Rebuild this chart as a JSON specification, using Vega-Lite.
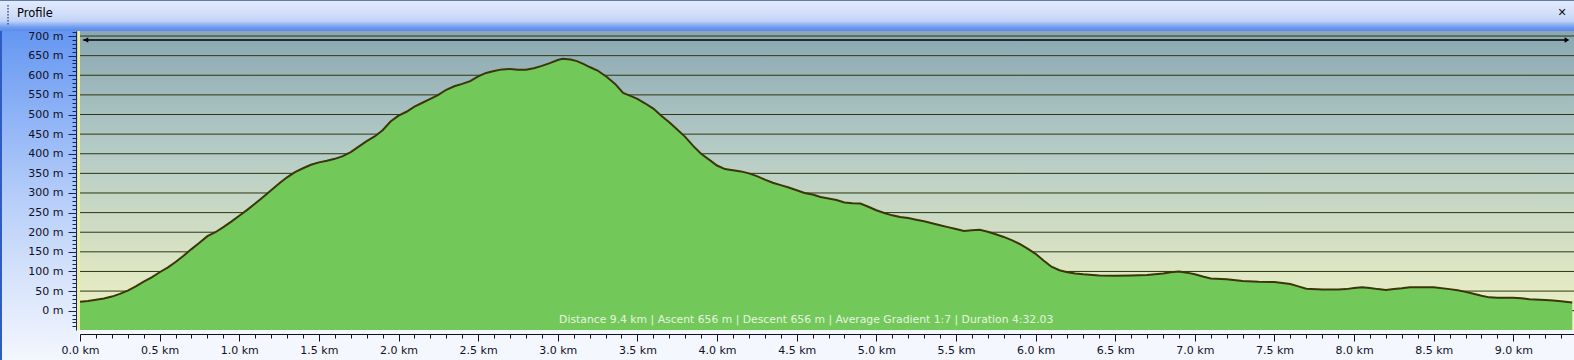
{
 "$schema": "https://vega.github.io/schema/vega-lite/v6.json",
 "width": 1494,
 "height": 299,
 "autosize": {"type": "none"},
 "padding": {"left": 80, "top": 31, "right": 0, "bottom": 30},
 "background": "#f4f7fd",
 "config": {"view": {"stroke": null}, "font": "DejaVu Sans"},
 "datasets": {
  "profile": [
   {"km":0.00,"m":23},{"km":0.05,"m":25},{"km":0.10,"m":28},{"km":0.15,"m":31},{"km":0.20,"m":36},{"km":0.25,"m":43},{"km":0.30,"m":51},{"km":0.35,"m":62},{"km":0.40,"m":74},{"km":0.45,"m":85},{"km":0.50,"m":98},{"km":0.55,"m":110},{"km":0.60,"m":124},{"km":0.65,"m":140},{"km":0.70,"m":157},{"km":0.75,"m":173},{"km":0.80,"m":190},{"km":0.85,"m":200},{"km":0.90,"m":213},{"km":0.95,"m":227},
   {"km":1.00,"m":242},{"km":1.05,"m":257},{"km":1.10,"m":273},{"km":1.15,"m":290},{"km":1.20,"m":307},{"km":1.25,"m":324},{"km":1.30,"m":340},{"km":1.35,"m":353},{"km":1.40,"m":363},{"km":1.45,"m":372},{"km":1.50,"m":378},{"km":1.55,"m":382},{"km":1.60,"m":387},{"km":1.65,"m":394},{"km":1.70,"m":404},{"km":1.75,"m":418},{"km":1.80,"m":432},{"km":1.85,"m":444},{"km":1.90,"m":460},{"km":1.95,"m":482},
   {"km":2.00,"m":497},{"km":2.05,"m":507},{"km":2.10,"m":520},{"km":2.15,"m":530},{"km":2.20,"m":540},{"km":2.25,"m":550},{"km":2.30,"m":563},{"km":2.35,"m":572},{"km":2.40,"m":578},{"km":2.45,"m":585},{"km":2.50,"m":597},{"km":2.55,"m":606},{"km":2.60,"m":611},{"km":2.65,"m":615},{"km":2.70,"m":616},{"km":2.75,"m":614},{"km":2.80,"m":614},{"km":2.85,"m":618},{"km":2.90,"m":624},{"km":2.95,"m":631},
   {"km":3.00,"m":639},{"km":3.03,"m":642},{"km":3.08,"m":640},{"km":3.12,"m":636},{"km":3.16,"m":629},{"km":3.20,"m":621},{"km":3.25,"m":612},{"km":3.31,"m":595},{"km":3.36,"m":578},{"km":3.41,"m":555},{"km":3.46,"m":547},{"km":3.50,"m":540},{"km":3.55,"m":528},{"km":3.60,"m":515},{"km":3.65,"m":497},{"km":3.70,"m":480},{"km":3.75,"m":462},{"km":3.80,"m":443},{"km":3.85,"m":420},{"km":3.90,"m":400},{"km":3.95,"m":385},
   {"km":4.00,"m":370},{"km":4.05,"m":361},{"km":4.10,"m":358},{"km":4.15,"m":355},{"km":4.20,"m":350},{"km":4.25,"m":343},{"km":4.30,"m":334},{"km":4.35,"m":326},{"km":4.40,"m":320},{"km":4.45,"m":314},{"km":4.50,"m":307},{"km":4.55,"m":300},{"km":4.60,"m":296},{"km":4.65,"m":290},{"km":4.70,"m":286},{"km":4.75,"m":282},{"km":4.80,"m":276},{"km":4.85,"m":274},{"km":4.90,"m":273},{"km":4.95,"m":265},
   {"km":5.00,"m":256},{"km":5.05,"m":249},{"km":5.10,"m":243},{"km":5.15,"m":239},{"km":5.20,"m":236},{"km":5.25,"m":232},{"km":5.30,"m":228},{"km":5.35,"m":223},{"km":5.40,"m":218},{"km":5.45,"m":213},{"km":5.50,"m":208},{"km":5.55,"m":203},{"km":5.60,"m":205},{"km":5.65,"m":206},{"km":5.70,"m":201},{"km":5.75,"m":195},{"km":5.80,"m":188},{"km":5.85,"m":180},{"km":5.90,"m":170},{"km":5.95,"m":158},
   {"km":6.00,"m":145},{"km":6.05,"m":128},{"km":6.10,"m":112},{"km":6.15,"m":103},{"km":6.20,"m":98},{"km":6.25,"m":95},{"km":6.30,"m":93},{"km":6.40,"m":90},{"km":6.50,"m":89},{"km":6.60,"m":90},{"km":6.70,"m":91},{"km":6.80,"m":95},{"km":6.85,"m":98},{"km":6.90,"m":100},{"km":6.95,"m":97},
   {"km":7.00,"m":93},{"km":7.05,"m":87},{"km":7.10,"m":82},{"km":7.20,"m":80},{"km":7.30,"m":76},{"km":7.40,"m":74},{"km":7.50,"m":73},{"km":7.60,"m":68},{"km":7.65,"m":62},{"km":7.70,"m":56},{"km":7.80,"m":54},{"km":7.90,"m":54},{"km":7.95,"m":55},
   {"km":8.00,"m":58},{"km":8.05,"m":60},{"km":8.10,"m":58},{"km":8.15,"m":55},{"km":8.20,"m":53},{"km":8.25,"m":55},{"km":8.30,"m":57},{"km":8.35,"m":60},{"km":8.50,"m":60},{"km":8.60,"m":55},{"km":8.65,"m":52},{"km":8.70,"m":48},{"km":8.75,"m":43},{"km":8.80,"m":38},{"km":8.85,"m":34},{"km":8.90,"m":33},
   {"km":9.00,"m":33},{"km":9.05,"m":32},{"km":9.10,"m":29},{"km":9.20,"m":27},{"km":9.25,"m":26},{"km":9.30,"m":24},{"km":9.37,"m":21}
  ],
  "grid": [
   {"m":0},{"m":50},{"m":100},{"m":150},{"m":200},{"m":250},{"m":300},{"m":350},{"m":400},{"m":450},{"m":500},{"m":550},{"m":600},{"m":650},{"m":700}
  ]
 },
 "layer": [
  {
   "data": {"values": [{}]},
   "mark": {"type": "rect", "color": {"gradient": "linear", "x1": 0, "y1": 0, "x2": 0, "y2": 1, "stops": [{"offset": 0, "color": "#10306e"}, {"offset": 0.04, "color": "#e0eafd"}, {"offset": 0.45, "color": "#d2dffa"}, {"offset": 0.68, "color": "#c0d2f8"}, {"offset": 0.8, "color": "#8fb0f3"}, {"offset": 0.9, "color": "#6898ef"}, {"offset": 1, "color": "#5a8cec"}]}},
   "encoding": {
    "x": {"datum": -0.5024, "type": "quantitative", "scale": {"domain": [0, 9.3809], "nice": false, "zero": false}, "title": null},
    "x2": {"datum": 9.4},
    "y": {"datum": 791.8, "type": "quantitative", "scale": {"domain": [-49.18, 712.8], "nice": false, "zero": false}, "title": null},
    "y2": {"datum": 712.8}
   }
  },
  {
   "data": {"values": [{}]},
   "mark": {"type": "rect", "color": {"gradient": "linear", "x1": 0, "y1": 0, "x2": 0, "y2": 1, "stops": [{"offset": 0, "color": "#6597f1"}, {"offset": 0.25, "color": "#8db2f6"}, {"offset": 0.5, "color": "#b4cdf9"}, {"offset": 0.75, "color": "#d6e3fb"}, {"offset": 1, "color": "#f3f7fe"}]}},
   "encoding": {
    "x": {"datum": -0.5024, "type": "quantitative", "scale": {"domain": [0, 9.3809], "nice": false, "zero": false}, "title": null},
    "x2": {"datum": -0.0094},
    "y": {"datum": 712.8, "type": "quantitative", "scale": {"domain": [-49.18, 712.8], "nice": false, "zero": false}, "title": null},
    "y2": {"datum": -125.6}
   }
  },
  {
   "data": {"values": [{}]},
   "mark": {"type": "rect", "color": "#2d5cc4"},
   "encoding": {
    "x": {"datum": -0.5024, "type": "quantitative", "scale": {"domain": [0, 9.3809], "nice": false, "zero": false}, "title": null},
    "x2": {"datum": -0.4898},
    "y": {"datum": 712.8, "type": "quantitative", "scale": {"domain": [-49.18, 712.8], "nice": false, "zero": false}, "title": null},
    "y2": {"datum": -125.6}
   }
  },
  {
   "data": {"values": [{}]},
   "mark": {"type": "rect", "color": {"gradient": "linear", "x1": 0, "y1": 0, "x2": 0, "y2": 1, "stops": [{"offset": 0, "color": "#8aa8b2"}, {"offset": 0.4, "color": "#b5cbc6"}, {"offset": 0.8, "color": "#dde6c3"}, {"offset": 1, "color": "#f0f2c6"}]}},
   "encoding": {
    "x": {"datum": 0, "type": "quantitative", "scale": {"domain": [0, 9.3809], "nice": false, "zero": false}, "title": null},
    "x2": {"datum": 9.3809},
    "y": {"datum": 712.8, "type": "quantitative", "scale": {"domain": [-49.18, 712.8], "nice": false, "zero": false}, "title": null},
    "y2": {"datum": -49.18}
   }
  },
  {
   "data": {"values": [{}]},
   "mark": {"type": "rule", "color": "#eef08c", "strokeWidth": 2.5},
   "encoding": {
    "x": {"datum": -0.009, "type": "quantitative", "scale": {"domain": [0, 9.3809], "nice": false, "zero": false}, "title": null},
    "y": {"datum": 712.8, "type": "quantitative", "scale": {"domain": [-49.18, 712.8], "nice": false, "zero": false}, "title": null},
    "y2": {"datum": -49.18}
   }
  },
  {
   "data": {"name": "grid"},
   "mark": {"type": "rule", "color": "#2c3810", "strokeWidth": 1},
   "encoding": {
    "y": {"field": "m", "type": "quantitative", "scale": {"domain": [-49.18, 712.8], "nice": false, "zero": false}, "title": null}
   }
  },
  {
   "data": {"name": "profile"},
   "mark": {"type": "area", "color": "#72c95a"},
   "encoding": {
    "x": {"field": "km", "type": "quantitative", "scale": {"domain": [0, 9.3809], "nice": false, "zero": false},
     "axis": {"title": null, "orient": "bottom", "offset": 4, "grid": false, "zindex": 1, "tickCount": 1000,
      "values": [0,0.1,0.2,0.3,0.4,0.5,0.6,0.7,0.8,0.9,1,1.1,1.2,1.3,1.4,1.5,1.6,1.7,1.8,1.9,2,2.1,2.2,2.3,2.4,2.5,2.6,2.7,2.8,2.9,3,3.1,3.2,3.3,3.4,3.5,3.6,3.7,3.8,3.9,4,4.1,4.2,4.3,4.4,4.5,4.6,4.7,4.8,4.9,5,5.1,5.2,5.3,5.4,5.5,5.6,5.7,5.8,5.9,6,6.1,6.2,6.3,6.4,6.5,6.6,6.7,6.8,6.9,7,7.1,7.2,7.3,7.4,7.5,7.6,7.7,7.8,7.9,8,8.1,8.2,8.3,8.4,8.5,8.6,8.7,8.8,8.9,9,9.1,9.2,9.3],
      "domainColor": "#101028", "tickColor": "#101028",
      "tickSize": {"condition": {"test": "round(datum.value*10) % 5 === 0", "value": 7}, "value": 4},
      "labelExpr": "round(datum.value*10) % 5 === 0 ? format(datum.value, '.1f') + ' km' : ''",
      "labelFont": "DejaVu Sans", "labelFontSize": 11, "labelColor": "#101028", "labelPadding": 3,
      "labelOverlap": false, "labelFlush": false, "labelBound": false}},
    "y": {"field": "m", "type": "quantitative", "scale": {"domain": [-49.18, 712.8], "nice": false, "zero": false},
     "axis": {"title": null, "orient": "left", "offset": 4, "grid": false, "zindex": 1, "tickCount": 1000,
      "values": [-40,-30,-20,-10,0,10,20,30,40,50,60,70,80,90,100,110,120,130,140,150,160,170,180,190,200,210,220,230,240,250,260,270,280,290,300,310,320,330,340,350,360,370,380,390,400,410,420,430,440,450,460,470,480,490,500,510,520,530,540,550,560,570,580,590,600,610,620,630,640,650,660,670,680,690,700,710],
      "domainColor": "#142468", "tickColor": "#142468",
      "tickSize": {"condition": {"test": "datum.value % 50 === 0", "value": 8}, "value": 4},
      "labelExpr": "datum.value >= 0 && datum.value % 50 === 0 ? datum.value + ' m' : ''",
      "labelFont": "DejaVu Sans", "labelFontSize": 11, "labelColor": "#101028", "labelPadding": 5,
      "labelOverlap": false, "labelBound": false, "labelFlush": false}},
    "y2": {"datum": -49.18}
   }
  },
  {
   "data": {"name": "profile"},
   "mark": {"type": "line", "color": "#3a3608", "strokeWidth": 2},
   "encoding": {
    "x": {"field": "km", "type": "quantitative", "scale": {"domain": [0, 9.3809], "nice": false, "zero": false}},
    "y": {"field": "m", "type": "quantitative", "scale": {"domain": [-49.18, 712.8], "nice": false, "zero": false}}
   }
  },
  {
   "data": {"values": [{}]},
   "mark": {"type": "rule", "color": "#000000", "strokeWidth": 1.5},
   "encoding": {
    "x": {"datum": 0.02, "type": "quantitative", "scale": {"domain": [0, 9.3809], "nice": false, "zero": false}, "title": null},
    "x2": {"datum": 9.335},
    "y": {"datum": 690, "type": "quantitative", "scale": {"domain": [-49.18, 712.8], "nice": false, "zero": false}, "title": null}
   }
  },
  {
   "data": {"values": [{}]},
   "mark": {"type": "point", "shape": "triangle-left", "filled": true, "color": "#000000", "size": 30, "opacity": 1},
   "encoding": {
    "x": {"datum": 0.037, "type": "quantitative", "scale": {"domain": [0, 9.3809], "nice": false, "zero": false}, "title": null},
    "y": {"datum": 690, "type": "quantitative", "scale": {"domain": [-49.18, 712.8], "nice": false, "zero": false}, "title": null}
   }
  },
  {
   "data": {"values": [{}]},
   "mark": {"type": "point", "shape": "triangle-right", "filled": true, "color": "#000000", "size": 30, "opacity": 1},
   "encoding": {
    "x": {"datum": 9.337, "type": "quantitative", "scale": {"domain": [0, 9.3809], "nice": false, "zero": false}, "title": null},
    "y": {"datum": 690, "type": "quantitative", "scale": {"domain": [-49.18, 712.8], "nice": false, "zero": false}, "title": null}
   }
  },
  {
   "data": {"values": [{}]},
   "mark": {"type": "text", "text": "Distance 9.4 km | Ascent 656 m | Descent 656 m | Average Gradient 1:7 | Duration 4:32.03", "font": "DejaVu Sans", "fontSize": 10.8, "color": "#e8f2e0", "align": "center", "baseline": "middle"},
   "encoding": {
    "x": {"datum": 4.56, "type": "quantitative", "scale": {"domain": [0, 9.3809], "nice": false, "zero": false}, "title": null},
    "y": {"datum": -23.7, "type": "quantitative", "scale": {"domain": [-49.18, 712.8], "nice": false, "zero": false}, "title": null}
   }
  },
  {
   "data": {"values": [{}]},
   "mark": {"type": "text", "text": "Profile", "font": "DejaVu Sans", "fontSize": 11.5, "color": "#000000", "align": "left", "baseline": "middle"},
   "encoding": {
    "x": {"datum": -0.3956, "type": "quantitative", "scale": {"domain": [0, 9.3809], "nice": false, "zero": false}, "title": null},
    "y": {"datum": 756, "type": "quantitative", "scale": {"domain": [-49.18, 712.8], "nice": false, "zero": false}, "title": null}
   }
  },
  {
   "data": {"values": [{}]},
   "mark": {"type": "text", "text": "✕", "font": "DejaVu Sans", "fontSize": 11, "fontWeight": "bold", "color": "#101010", "align": "center", "baseline": "middle"},
   "encoding": {
    "x": {"datum": 9.306, "type": "quantitative", "scale": {"domain": [0, 9.3809], "nice": false, "zero": false}, "title": null},
    "y": {"datum": 758.7, "type": "quantitative", "scale": {"domain": [-49.18, 712.8], "nice": false, "zero": false}, "title": null}
   }
  },
  {
   "data": {"values": [{}]},
   "mark": {"type": "rule", "color": "#3a5a90", "strokeWidth": 1.5, "strokeDash": [1.5, 1.5]},
   "encoding": {
    "x": {"datum": -0.452, "type": "quantitative", "scale": {"domain": [0, 9.3809], "nice": false, "zero": false}, "title": null},
    "y": {"datum": 779, "type": "quantitative", "scale": {"domain": [-49.18, 712.8], "nice": false, "zero": false}, "title": null},
    "y2": {"datum": 728}
   }
  }
 ]
}
